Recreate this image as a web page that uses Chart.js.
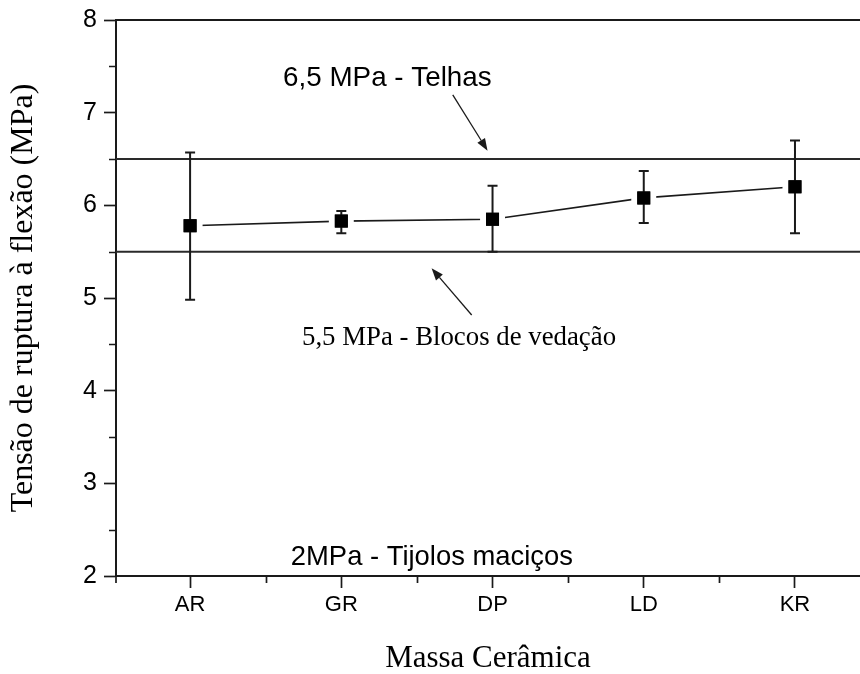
<!DOCTYPE html>
<html><head><meta charset="utf-8">
<script src="https://cdn.jsdelivr.net/npm/chart.js@4/dist/chart.umd.min.js"></script>
<style>html,body{margin:0;padding:0;background:#fff;overflow:hidden}canvas{display:block}</style>
</head><body>
<canvas id="c" width="860" height="674"></canvas>
<script>
// ---- data ----
const categories = ['AR', 'GR', 'DP', 'LD', 'KR'];
const strength   = [5.78, 5.83, 5.85, 6.08, 6.20];
const errUpper   = [6.57, 5.94, 6.21, 6.37, 6.70];
const errLower   = [4.98, 5.70, 5.50, 5.81, 5.70];
const limitTelhas = 6.5;
const limitBlocos = 5.5;
const yTicks = [2, 3, 4, 5, 6, 7, 8];
const yMinorTicks = [2.5, 3.5, 4.5, 5.5, 6.5, 7.5];
const xTicks = [0, 1, 2, 3, 4];
const xMinorTicks = [0.5, 1.5, 2.5, 3.5];
const yTitle = 'Tensão de ruptura à flexão (MPa)';
const xTitle = 'Massa Cerâmica';
const noteTelhas = '6,5 MPa - Telhas';
const noteBlocos = '5,5 MPa - Blocos de vedação';
const noteTijolos = '2MPa - Tijolos maciços';

// ---- layout / style ----
const X_MIN = -0.49, X_MAX = 4.43;
const INK = '#1a1a1a';
const SANS = "'Liberation Sans', Arial, sans-serif";
const SERIF = "'Liberation Serif', 'Times New Roman', serif";

const notes = [
  {text: noteTelhas, xv: 0.615, yv: 7.288, font: '27.8px ' + SANS},
  {text: noteBlocos, xv: 0.74, yv: 4.493, font: '26.8px ' + SERIF},
  {text: noteTijolos, xv: 0.666, yv: 2.119, font: '27.4px ' + SANS}
];
const arrows = [
  {x0: 1.737, y0: 7.191, x1: 1.967, y1: 6.59},
  {x0: 1.862, y0: 4.817, x1: 1.597, y1: 5.32}
];

const seriesPoints = strength.map((v, i) => ({x: i, y: v}));
const linePts = v => [{x: X_MIN, y: v}, {x: X_MAX, y: v}];

const extras = {
  id: 'extras',
  afterDatasetsDraw(chart) {
    const {ctx, chartArea: a} = chart;
    const xs = chart.scales.x, ys = chart.scales.y;
    ctx.save();
    ctx.strokeStyle = INK;
    ctx.lineWidth = 2;
    ctx.beginPath();
    ctx.moveTo(a.left, ys.getPixelForValue(8));
    ctx.lineTo(a.right, ys.getPixelForValue(8));
    ctx.stroke();
    ctx.lineWidth = 1.7;
    ctx.beginPath();
    yMinorTicks.forEach(v => {
      const p = Math.round(ys.getPixelForValue(v)) + 0.5;
      ctx.moveTo(a.left - 7, p); ctx.lineTo(a.left, p);
    });
    xMinorTicks.forEach(v => {
      const p = Math.round(xs.getPixelForValue(v)) + 0.5;
      ctx.moveTo(p, a.bottom); ctx.lineTo(p, a.bottom + 7);
    });
    ctx.moveTo(a.left, a.bottom); ctx.lineTo(a.left, a.bottom + 7);
    ctx.stroke();
    ctx.lineWidth = 2;
    ctx.beginPath();
    strength.forEach((v, i) => {
      const px = xs.getPixelForValue(i);
      const pu = ys.getPixelForValue(errUpper[i]);
      const pl = ys.getPixelForValue(errLower[i]);
      ctx.moveTo(px, pu); ctx.lineTo(px, pl);
      ctx.moveTo(px - 5, pu); ctx.lineTo(px + 5, pu);
      ctx.moveTo(px - 5, pl); ctx.lineTo(px + 5, pl);
    });
    ctx.stroke();
    ctx.fillStyle = '#000';
    strength.forEach((v, i) => {
      const px = xs.getPixelForValue(i), py = ys.getPixelForValue(v);
      ctx.fillRect(px - 6.5, py - 6.5, 13, 13);
    });
    ctx.lineWidth = 1.3;
    ctx.fillStyle = INK;
    arrows.forEach(ar => {
      const x0 = xs.getPixelForValue(ar.x0), y0 = ys.getPixelForValue(ar.y0);
      const x1 = xs.getPixelForValue(ar.x1), y1 = ys.getPixelForValue(ar.y1);
      const ang = Math.atan2(y1 - y0, x1 - x0);
      const L = 12, W = 4.5;
      const bx = x1 - L * Math.cos(ang), by = y1 - L * Math.sin(ang);
      ctx.beginPath(); ctx.moveTo(x0, y0); ctx.lineTo(bx, by); ctx.stroke();
      ctx.beginPath();
      ctx.moveTo(x1, y1);
      ctx.lineTo(bx + W * Math.sin(ang), by - W * Math.cos(ang));
      ctx.lineTo(bx - W * Math.sin(ang), by + W * Math.cos(ang));
      ctx.closePath(); ctx.fill();
    });
    ctx.fillStyle = '#000';
    ctx.textAlign = 'left';
    ctx.textBaseline = 'alphabetic';
    notes.forEach(n => {
      ctx.font = n.font;
      ctx.fillText(n.text, xs.getPixelForValue(n.xv), ys.getPixelForValue(n.yv));
    });
    ctx.restore();
  }
};

new Chart(document.getElementById('c'), {
  type: 'line',
  data: {
    datasets: [
      {
        data: seriesPoints,
        borderColor: INK, borderWidth: 1.6,
        pointStyle: 'rect', pointRadius: 13.4,
        pointBackgroundColor: '#000', pointBorderColor: '#fff', pointBorderWidth: 6,
        tension: 0
      },
      {data: linePts(limitTelhas), borderColor: '#2a2a2a', borderWidth: 2, pointRadius: 0},
      {data: linePts(limitBlocos), borderColor: '#2a2a2a', borderWidth: 2, pointRadius: 0}
    ]
  },
  options: {
    responsive: false, animation: false, devicePixelRatio: 1,
    layout: {autoPadding: false, padding: {top: 20, right: 0, bottom: 0, left: 0}},
    plugins: {legend: {display: false}, tooltip: {enabled: false}},
    scales: {
      x: {
        type: 'linear', min: X_MIN, max: X_MAX,
        afterBuildTicks: s => { s.ticks = xTicks.map(v => ({value: v})); },
        afterFit: s => { s.height = 98; s.paddingLeft = 0; s.paddingRight = 0; },
        ticks: {
          callback: v => categories[v] ?? '',
          font: {family: SANS, size: 22, lineHeight: 1}, color: '#000', padding: 6,
          autoSkip: false, maxRotation: 0
        },
        grid: {drawOnChartArea: false, drawTicks: true, tickLength: 12, tickWidth: 1.7, tickColor: INK},
        border: {display: true, color: INK, width: 2},
        title: {display: true, text: xTitle, font: {family: SERIF, size: 31, lineHeight: 1}, color: '#000', padding: {top: 0, bottom: 0}}
      },
      y: {
        min: 2, max: 8,
        afterBuildTicks: s => { s.ticks = yTicks.map(v => ({value: v})); },
        afterFit: s => { s.width = 116; s.paddingTop = 0; s.paddingBottom = 0; },
        ticks: {font: {family: SANS, size: 25, lineHeight: 1}, color: '#000', padding: 7},
        grid: {drawOnChartArea: false, drawTicks: true, tickLength: 12, tickWidth: 1.7, tickColor: INK},
        border: {display: true, color: INK, width: 2},
        title: {display: true, text: yTitle, font: {family: SERIF, size: 32, lineHeight: 1}, color: '#000', padding: {top: 8, bottom: 0}}
      }
    }
  },
  plugins: [extras]
});
</script>
</body></html>
